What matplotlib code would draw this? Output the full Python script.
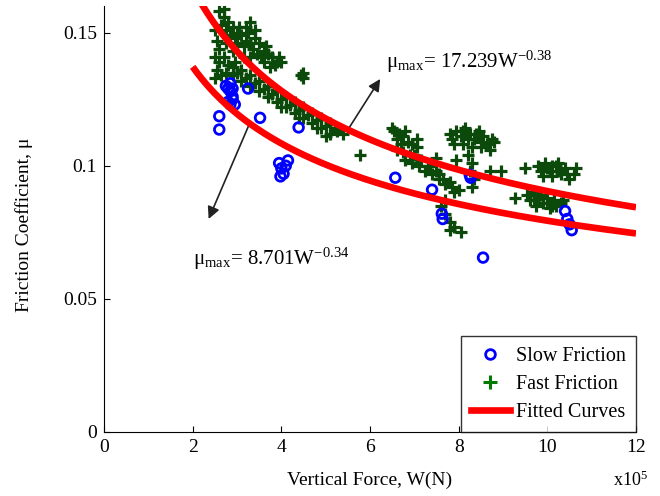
import numpy as np
import matplotlib.pyplot as plt
from matplotlib.lines import Line2D

plt.rcParams['font.family'] = ['Liberation Serif', 'DejaVu Serif']
plt.rcParams['mathtext.fontset'] = 'custom'
plt.rcParams['mathtext.rm'] = 'Liberation Serif'
plt.rcParams['mathtext.it'] = 'Liberation Serif:italic'

# Fast friction tests (W in 1e5 N, mu)
fast_x = [2.60, 2.70, 2.80, 2.65, 2.90, 3.00, 3.10, 3.30, 3.25, 3.40, 2.85, 3.00, 3.15,
          3.30, 3.50, 3.60, 3.70, 3.80, 3.90, 4.00, 3.45, 3.60, 3.75, 3.30, 3.15,
          2.75, 2.95, 3.05, 3.20, 3.35, 3.55, 3.65, 3.85, 3.95, 3.40, 3.20, 2.70,
          2.50, 2.55, 2.60, 2.50, 2.60, 2.55, 2.50, 2.65, 2.75, 2.70, 2.80, 2.90, 2.95, 2.75,
          2.90, 2.90, 3.10, 3.10, 3.30, 3.30, 3.50, 3.50, 3.70, 3.70, 3.90, 3.90, 4.10, 4.10,
          4.30, 4.30, 4.50, 4.50, 4.70, 4.70, 4.90, 4.90, 5.10, 5.10, 5.25,
          3.00, 3.20, 3.40, 3.60, 3.80, 4.00, 4.20, 4.40, 4.60, 4.80, 5.00, 5.20,
          4.00, 4.40, 4.80, 5.00,
          4.50, 4.50, 4.45, 5.40, 5.77,
          6.55, 6.65, 6.75, 6.60, 6.85, 6.95, 7.05, 6.70, 7.07, 6.50, 6.80,
          6.80, 6.95, 7.10, 7.25, 7.40, 7.55, 7.70, 7.85, 8.00, 7.00, 7.30, 7.55,
          6.60, 6.75, 6.90, 7.15, 7.35, 7.50, 7.65, 7.80, 7.90,
          7.60, 7.70, 7.80, 7.90, 8.05, 7.70, 7.80,
          7.80, 7.95, 8.10, 8.25, 8.40, 8.55, 8.75, 7.90, 8.10, 8.30, 8.50, 8.70,
          7.85, 8.05, 8.20, 8.35, 8.50, 8.65, 8.80, 8.15, 8.45,
          8.20, 8.30, 8.25, 8.35, 8.30, 7.48, 7.93, 8.70, 8.95,
          9.80, 9.95, 10.10, 10.25, 10.40, 10.60, 9.90, 10.10, 10.30, 10.50, 9.50,
          9.85, 10.05, 10.25, 10.45, 10.65, 10.00, 10.20,
          9.55, 9.70, 9.85, 10.00, 10.15, 10.30, 9.70, 9.90, 10.10, 9.27,
          9.60, 9.80, 10.00, 10.20, 10.35, 9.75, 10.05]
fast_y = [0.158, 0.156, 0.154, 0.153, 0.152, 0.150, 0.149, 0.154, 0.150, 0.148, 0.149, 0.146, 0.145,
          0.146, 0.146, 0.143, 0.142, 0.141, 0.139, 0.139, 0.142, 0.139, 0.137, 0.141, 0.141,
          0.151, 0.148, 0.152, 0.147, 0.144, 0.141, 0.145, 0.138, 0.141, 0.151, 0.152, 0.159,
          0.151, 0.147, 0.144, 0.141, 0.139, 0.136, 0.133, 0.134, 0.146, 0.141, 0.138, 0.143, 0.139, 0.135,
          0.134, 0.137, 0.132, 0.136, 0.130, 0.134, 0.128, 0.132, 0.126, 0.130, 0.124, 0.128, 0.122, 0.126,
          0.120, 0.124, 0.118, 0.122, 0.116, 0.120, 0.114, 0.118, 0.112, 0.116, 0.113,
          0.135, 0.133, 0.131, 0.129, 0.127, 0.125, 0.123, 0.121, 0.119, 0.117, 0.115, 0.114,
          0.122, 0.118, 0.114, 0.111,
          0.135, 0.133, 0.134, 0.112, 0.104,
          0.113, 0.112, 0.111, 0.110, 0.109, 0.108, 0.107, 0.108, 0.110, 0.114, 0.113,
          0.102, 0.101, 0.100, 0.098, 0.097, 0.095, 0.093, 0.092, 0.091, 0.104, 0.100, 0.097,
          0.106, 0.105, 0.104, 0.102, 0.100, 0.098, 0.095, 0.094, 0.090,
          0.085, 0.082, 0.079, 0.077, 0.075, 0.087, 0.076,
          0.112, 0.113, 0.113, 0.112, 0.112, 0.111, 0.110, 0.108, 0.108, 0.107, 0.107, 0.106,
          0.110, 0.111, 0.110, 0.110, 0.109, 0.108, 0.109, 0.114, 0.113,
          0.104, 0.101, 0.098, 0.095, 0.092, 0.103, 0.102, 0.098, 0.098,
          0.100, 0.101, 0.100, 0.101, 0.099, 0.097, 0.096, 0.096, 0.097, 0.095, 0.099,
          0.098, 0.098, 0.098, 0.097, 0.099, 0.099, 0.100,
          0.089, 0.090, 0.089, 0.088, 0.087, 0.086, 0.087, 0.086, 0.085, 0.088,
          0.087, 0.088, 0.086, 0.085, 0.087, 0.085, 0.084]

# Slow friction tests
slow_x = [2.60, 2.60, 2.75, 2.85, 2.90, 2.80, 2.95, 2.85, 2.90, 2.80, 2.90, 2.85,
          3.25, 3.52, 4.39,
          3.95, 4.00, 4.05, 4.10, 3.98, 4.15,
          6.57, 7.40, 7.62, 7.64, 8.25, 8.27, 8.55, 10.40, 10.45, 10.50, 10.55]
slow_y = [0.1186, 0.1136, 0.130, 0.128, 0.126, 0.124, 0.123, 0.131, 0.129, 0.129, 0.125, 0.123,
          0.129, 0.118, 0.1144,
          0.101, 0.099, 0.097, 0.100, 0.096, 0.102,
          0.0955, 0.091, 0.082, 0.080, 0.0966, 0.0955, 0.0655, 0.083, 0.080, 0.078, 0.0758]

# Fitted curves mu = a * W^b
fit_upper = (17.239, -0.38)
fit_lower = (8.701, -0.34)

fig = plt.figure(figsize=(6.6, 4.96), dpi=100)
ax = fig.add_axes([104 / 660, 64 / 496, 532 / 660, 426 / 496])

ax.scatter(fast_x, fast_y, marker='+', s=85, color='#0b4a0b', linewidths=2.3, zorder=2)
ax.scatter(slow_x, slow_y, marker='o', s=48, facecolors='none', edgecolors='#0000ff',
           linewidths=2.0, zorder=3)

W = np.linspace(2e5, 12e5, 300)
for a, b in (fit_upper, fit_lower):
    ax.plot(W / 1e5, a * W ** b, color='#ff0000', lw=4.8, zorder=4, solid_capstyle='butt')

ax.set_xlim(0, 12)
ax.set_ylim(0, 0.16)
ax.set_xticks([0, 2, 4, 6, 8, 10, 12])
ax.set_yticks([0, 0.05, 0.1, 0.15])
ax.set_yticklabels(['0', '0.05', '0.1', '0.15'])
ax.tick_params(direction='in', length=4, labelsize=14, pad=5)
for side in ('top', 'right'):
    ax.spines[side].set_visible(False)

ax.set_xlabel('Vertical Force, W(N)', fontsize=14)
ax.set_ylabel('Friction Coefficient, μ', fontsize=14)
ax.xaxis.set_label_coords(0.5, -0.092)
ax.yaxis.set_label_coords(-0.133, 0.486)
fig.text(648 / 660, 1 - 480 / 496, r'x10$^5$', fontsize=13, ha='right', va='center')

arrow = dict(arrowstyle='-|>', color='#222222', lw=1.2, mutation_scale=18, shrinkA=0, shrinkB=0)
ax.annotate('', xy=(6.23, 0.1326), xytext=(5.5, 0.1135), arrowprops=arrow)
ax.annotate('', xy=(2.36, 0.0800), xytext=(3.3, 0.1165), arrowprops=arrow)
ax.text(6.35, 0.139, r'μ$_{\rm max}$= 17.239W$^{-0.38}$', fontsize=15, va='center')
ax.text(2.0, 0.065, r'μ$_{\rm max}$= 8.701W$^{-0.34}$', fontsize=15, va='center')

handles = [Line2D([], [], marker='o', ls='none', mfc='none', mec='#0000ff', mew=2.0, ms=7),
           Line2D([], [], marker='+', ls='none', color='#007a00', mew=2.2, ms=10),
           Line2D([], [], color='#ff0000', lw=4.8)]
leg = ax.legend(handles, ['Slow Friction', 'Fast Friction', 'Fitted Curves'],
                loc='lower right', bbox_to_anchor=(1.0, 0.0), borderaxespad=0,
                fontsize=14.5, frameon=True, fancybox=False, handlelength=1.95,
                handletextpad=0.3, labelspacing=0.45, borderpad=0.5)
leg.get_frame().set_edgecolor('black')
leg.get_frame().set_linewidth(1.0)

fig.savefig('out.png', dpi=100)
